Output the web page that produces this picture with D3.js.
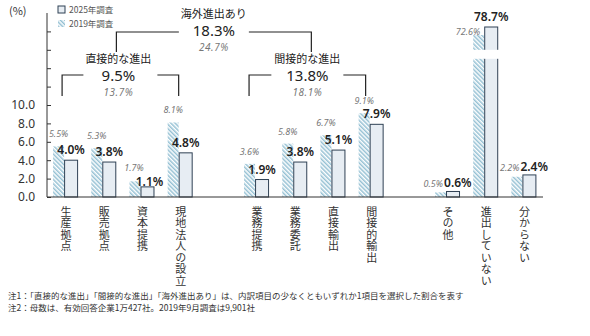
<!DOCTYPE html>
<html>
<head>
<meta charset="utf-8">
<script src="https://cdn.jsdelivr.net/npm/d3@7"></script>
<style>
  body { margin: 0; background: #fff; }
  svg { display: block; }
  text { font-family: "Noto Sans CJK JP", "Noto Sans", sans-serif; }
  .num { font-family: "Noto Sans", "Noto Sans CJK JP", sans-serif; }
  .vlabel { writing-mode: vertical-rl; text-orientation: upright; }
</style>
</head>
<body>
<svg id="chart"></svg>
<script>
// Data
const directItems = ['生産拠点', '販売拠点', '資本提携', '現地法人の設立'];
const indirectItems = ['業務提携', '業務委託', '直接輸出', '間接的輸出'];
const otherItems = ['その他', '進出していない', '分からない'];
const categories = [...directItems, ...indirectItems, ...otherItems];
const values2025 = [4.0, 3.8, 1.1, 4.8, 1.9, 3.8, 5.1, 7.9, 0.6, 78.7, 2.4];
const values2019 = [5.5, 5.3, 1.7, 8.1, 3.6, 5.8, 6.7, 9.1, 0.5, 72.6, 2.2];
const groupNames = ['直接的な進出', '間接的な進出', '海外進出あり'];
const group2025 = [9.5, 13.8, 18.3];
const group2019 = [13.7, 18.1, 24.7];
const seriesNames = ['2025年調査', '2019年調査'];
const yTicks = [0, 2, 4, 6, 8, 10, 12, 14, 16, 18];
const yLabelMax = 10;
const notes = [
    '注1：「直接的な進出」「間接的な進出」「海外進出あり」は、内訳項目の少なくともいずれか1項目を選択した割合を表す',
    '注2：母数は、有効回答企業1万427社。2019年9月調査は9,901社'
];

const width = 590, height = 336;
const baseY = 197, topY = 13, axisX = 47, axisEnd = 543;
const pct = v => d3.format('.1f')(v) + '%';

const svg = d3.select('#chart')
    .attr('width', width)
    .attr('height', height);

// Hatch pattern for the 2019 bars
svg.append('defs').append('pattern')
    .attr('id', 'hatch')
    .attr('patternUnits', 'userSpaceOnUse')
    .attr('width', 3)
    .attr('height', 3)
    .attr('patternTransform', 'rotate(-45)')
    .call(p => p.append('rect').attr('width', 3).attr('height', 3).attr('fill', '#fff'))
    .call(p => p.append('rect').attr('width', 1.5).attr('height', 3).attr('fill', '#94c0d3'));

// Slots: empty keys keep a gap between the three groups
const slots = [...directItems, '_a', ...indirectItems, '_b', ...otherItems];
const xScale = d3.scaleBand().domain(slots).range([45, 541.5]);
const cx = name => xScale(name) + xScale.bandwidth() / 2;

// Tick scale (uniform) and bar scale (broken above the tick range)
const tickScale = d3.scaleLinear().domain([0, 20]).range([baseY, topY]);
const yScale = d3.scaleLinear().domain([0, 10, 70, 80]).range([baseY, 105, 38.4, 25.3]);

// Y axis
const yAxis = d3.axisLeft(tickScale)
    .tickValues(yTicks)
    .tickSizeInner(-4)
    .tickSizeOuter(0)
    .tickPadding(12)
    .tickFormat(d => d <= yLabelMax ? d3.format('.1f')(d) : '');

const yAxisG = svg.append('g')
    .attr('transform', `translate(${axisX},0)`)
    .call(yAxis);
yAxisG.select('.domain').remove();
yAxisG.selectAll('.tick line').attr('stroke', '#333');
yAxisG.selectAll('.tick text')
    .attr('class', 'num')
    .attr('fill', '#333')
    .style('font-size', '12px');

svg.append('line')
    .attr('x1', axisX).attr('x2', axisX)
    .attr('y1', topY).attr('y2', baseY)
    .attr('stroke', '#333');

svg.append('text')
    .attr('x', 9).attr('y', 15)
    .attr('fill', '#333')
    .style('font-size', '11px')
    .text('(%)');

// Bars
const rows = categories.map((c, i) => ({ name: c, v25: values2025[i], v19: values2019[i] }));

const barG = svg.append('g');
barG.selectAll('.bar19')
    .data(rows)
    .join('rect')
    .attr('x', d => cx(d.name) - 11)
    .attr('width', 11)
    .attr('y', d => yScale(d.v19))
    .attr('height', d => baseY - yScale(d.v19))
    .attr('fill', 'url(#hatch)');

barG.selectAll('.bar25')
    .data(rows)
    .join('rect')
    .attr('x', d => cx(d.name) + 0.5)
    .attr('width', 13)
    .attr('y', d => yScale(d.v25))
    .attr('height', d => baseY - yScale(d.v25))
    .attr('fill', '#e7edf3')
    .attr('stroke', '#2f4154')
    .attr('stroke-width', 1);

// Break mark on bars that run past the axis
barG.selectAll('.gap')
    .data(rows.filter(d => d.v25 > 20))
    .join('rect')
    .attr('x', d => cx(d.name) - 13)
    .attr('width', 29)
    .attr('y', tickScale(16))
    .attr('height', 9)
    .attr('fill', '#fff');

// X axis line
svg.append('line')
    .attr('x1', axisX).attr('x2', axisEnd)
    .attr('y1', baseY).attr('y2', baseY)
    .attr('stroke', '#333');

// Value labels
const labelG = svg.append('g');
rows.forEach(d => {
    const c = cx(d.name);
    const y25 = yScale(d.v25), y19 = yScale(d.v19);
    let p25, p19;
    if (d.v25 > 20) {
        p25 = { x: c + 7, y: y25 - 6, a: 'middle' };
        p19 = { x: c - 4, y: y19, a: 'end' };
    } else if (Math.abs(d.v25 - d.v19) < 0.5 && d.v25 < 3) {
        const y = yScale(Math.max(d.v25, d.v19)) - 4;
        p25 = { x: c - 2, y: y, a: 'start' };
        p19 = { x: c - 3, y: y, a: 'end' };
    } else if (y25 - y19 < 10) {
        // bars of close height: push the two labels apart
        p25 = { x: c + 9, y: y25 - 1, a: 'middle' };
        p19 = { x: c - 6.5, y: y19 - 10.5, a: 'middle' };
    } else {
        p25 = { x: c + 7, y: y25 - 6, a: 'middle' };
        p19 = { x: c - 5.5, y: y19 - 9, a: 'middle' };
    }
    labelG.append('text')
        .attr('class', 'num')
        .attr('x', p19.x).attr('y', p19.y)
        .attr('text-anchor', p19.a)
        .attr('fill', '#777')
        .style('font-size', '9px')
        .style('font-style', 'italic')
        .text(pct(d.v19));
    labelG.append('text')
        .attr('class', 'num')
        .attr('x', p25.x).attr('y', p25.y)
        .attr('text-anchor', p25.a)
        .attr('fill', '#222')
        .style('font-size', '12px')
        .style('font-weight', 600)
        .text(pct(d.v25));
});

// Category labels, written top to bottom
svg.append('g').selectAll('text')
    .data(categories)
    .join('text')
    .attr('class', 'vlabel')
    .attr('x', d => cx(d) + 2)
    .attr('y', 206)
    .attr('fill', '#333')
    .style('font-size', '11px')
    .style('letter-spacing', '0.5px')
    .text(d => d);

// Group brackets
const bracketG = svg.append('g')
    .attr('fill', 'none')
    .attr('stroke', '#222')
    .attr('stroke-width', 1.2);

function bracket(x1, x2, y, yEnd, gap) {
    const mid = (x1 + x2) / 2;
    bracketG.append('path')
        .attr('d', `M${x1},${yEnd}V${y}H${mid - gap / 2}M${mid + gap / 2},${y}H${x2}V${yEnd}`);
    return mid;
}

function groupText(mid, yTitle, i) {
    svg.append('text')
        .attr('x', mid).attr('y', yTitle)
        .attr('text-anchor', 'middle')
        .attr('fill', '#222')
        .style('font-size', '11px')
        .text(groupNames[i]);
    svg.append('text')
        .attr('class', 'num')
        .attr('x', mid).attr('y', yTitle + 18)
        .attr('text-anchor', 'middle')
        .attr('fill', '#222')
        .style('font-size', '15px')
        .text(pct(group2025[i]));
    svg.append('text')
        .attr('class', 'num')
        .attr('x', mid).attr('y', yTitle + 33)
        .attr('text-anchor', 'middle')
        .attr('fill', '#777')
        .style('font-size', '10px')
        .style('font-style', 'italic')
        .style('letter-spacing', '0.5px')
        .text(pct(group2019[i]));
}

const midDirect = bracket(cx(directItems[0]) - 2, cx(directItems[directItems.length - 1]), 75, 96, 74);
const midIndirect = bracket(cx(indirectItems[0]) - 6, cx(indirectItems[indirectItems.length - 1]) - 4, 75, 96, 72);
const midAll = bracket(midDirect - 4, midIndirect + 4, 32, 52, 70);
groupText(midDirect - 2, 63, 0);
groupText(midIndirect, 63, 1);
groupText(midAll, 18, 2);

// Legend
const legend = svg.append('g').attr('transform', 'translate(58,6)');
legend.append('rect')
    .attr('width', 7).attr('height', 7)
    .attr('fill', '#e7edf3').attr('stroke', '#2f4154');
legend.append('rect')
    .attr('y', 14).attr('width', 7).attr('height', 7)
    .attr('fill', 'url(#hatch)');
legend.selectAll('.lt')
    .data(seriesNames)
    .join('text')
    .attr('x', 11)
    .attr('y', (d, i) => 7 + i * 14)
    .attr('fill', '#555')
    .style('font-size', '8.5px')
    .text(d => d);

// Footnotes
svg.append('g').selectAll('text')
    .data(notes)
    .join('text')
    .attr('x', 8)
    .attr('y', (d, i) => 299 + i * 12)
    .attr('fill', '#333')
    .style('font-size', '8.5px')
    .text(d => d);
</script>
</body>
</html>
